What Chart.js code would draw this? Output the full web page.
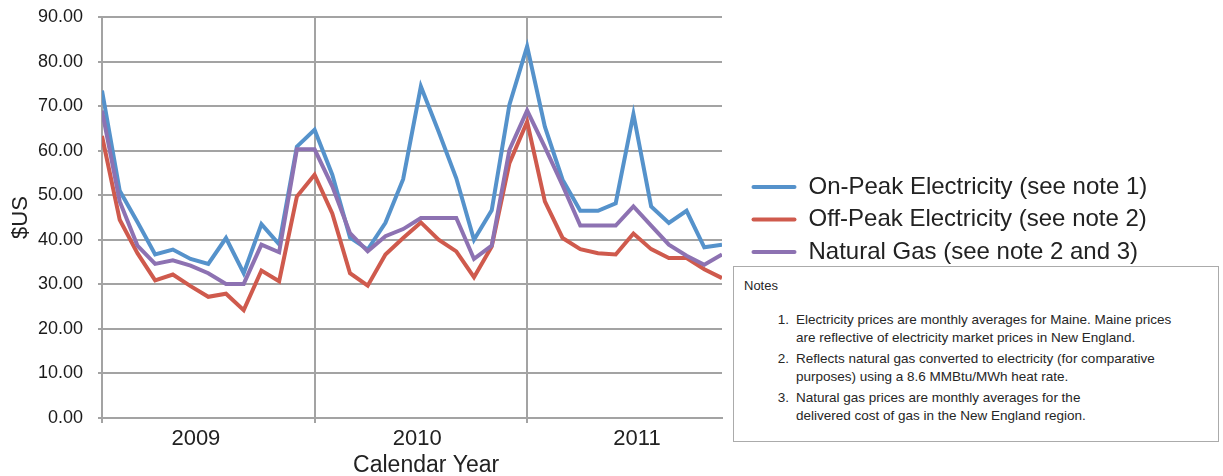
<!DOCTYPE html>
<html>
<head>
<meta charset="utf-8">
<title>Maine electricity and natural gas prices, 2009–2011</title>
<script src="https://cdn.jsdelivr.net/npm/chart.js@4/dist/chart.umd.min.js"></script>
<style>
  html, body { margin: 0; padding: 0; background: #ffffff; }
  #wrap { position: relative; width: 1223px; height: 476px; overflow: hidden; }
  #chart { position: absolute; left: 0; top: 0; }
  #notes {
    position: absolute; left: 733px; top: 266px; width: 486px; height: 176px;
    box-sizing: border-box; border: 1px solid #ababab; background: #ffffff;
    font-family: "Liberation Sans", Arial, sans-serif; font-size: 13.5px; color: #262626;
    line-height: 18px;
  }
  #notes .head { position: absolute; left: 10px; top: 10px; font-size: 13px; }
  #notes .item { position: absolute; left: 62px; white-space: nowrap; }
  #notes .item .num { position: absolute; left: -27px; width: 20px; text-align: right; }
</style>
</head>
<body>
<div id="wrap">
  <canvas id="chart" width="1223" height="476"></canvas>
  <div id="notes">
    <div class="head">Notes</div>
    <div class="item" style="top:44px"><span class="num">1.</span>Electricity prices are monthly averages for Maine. Maine prices<br>are reflective of electricity market prices in New England.</div>
    <div class="item" style="top:83px"><span class="num">2.</span>Reflects natural gas converted to electricity (for comparative<br>purposes) using a 8.6 MMBtu/MWh heat rate.</div>
    <div class="item" style="top:122px"><span class="num">3.</span>Natural gas prices are monthly averages for the<br>delivered cost of gas in the New England region.</div>
  </div>
</div>
<script>
// Monthly series, January 2009 through December 2011 ($US per MWh equivalent)
const months = [
  'Jan 2009','Feb 2009','Mar 2009','Apr 2009','May 2009','Jun 2009','Jul 2009','Aug 2009','Sep 2009','Oct 2009','Nov 2009','Dec 2009',
  'Jan 2010','Feb 2010','Mar 2010','Apr 2010','May 2010','Jun 2010','Jul 2010','Aug 2010','Sep 2010','Oct 2010','Nov 2010','Dec 2010',
  'Jan 2011','Feb 2011','Mar 2011','Apr 2011','May 2011','Jun 2011','Jul 2011','Aug 2011','Sep 2011','Oct 2011','Nov 2011','Dec 2011'
];

const onPeak = [
  73.5, 51.0, 44.0, 36.7, 37.8, 35.7, 34.6, 40.4, 32.5, 43.5, 39.0, 60.9,
  64.7, 54.6, 40.5, 37.8, 43.8, 53.6, 74.4, 64.3, 53.8, 40.0, 46.6, 70.3,
  83.4, 65.4, 53.5, 46.5, 46.5, 48.2, 68.2, 47.5, 43.8, 46.5, 38.3, 38.9
];

const offPeak = [
  63.3, 44.5, 37.0, 30.9, 32.2, 29.6, 27.2, 27.9, 24.2, 33.1, 30.7, 49.7,
  54.6, 45.9, 32.5, 29.7, 36.7, 40.4, 43.9, 40.0, 37.4, 31.6, 38.5, 57.2,
  66.5, 48.6, 40.4, 37.9, 37.0, 36.7, 41.4, 37.9, 35.9, 35.9, 33.4, 31.4
];

const naturalGas = [
  69.0, 48.6, 38.7, 34.6, 35.4, 34.2, 32.5, 30.1, 30.1, 38.9, 37.2, 60.3,
  60.3, 52.0, 41.5, 37.4, 40.8, 42.4, 44.9, 44.9, 44.9, 35.7, 38.7, 60.2,
  69.0, 60.8, 52.2, 43.2, 43.2, 43.2, 47.5, 43.2, 38.9, 36.4, 34.4, 36.7
];

const seriesNames = [
  'On-Peak Electricity (see note 1)',
  'Off-Peak Electricity (see note 2)',
  'Natural Gas (see note 2 and 3)'
];

// Year axis: divider ticks at the first month of each year, captions inside each year
const years = ['2009', '2010', '2011'];
const yearStart = [0, 12, 24];
const yearCaptionAt = [5.3, 17.8, 30.2];

const yMin = 0, yMax = 90, yStep = 10;

const BLUE = '#5592cb';
const RED = '#cf5a4d';
const PURPLE = '#8d72b2';
const GRID = '#a3a3a3';
const FONT = '"Liberation Sans", Arial, sans-serif';

const toPoints = (values) => values.map((v, i) => ({ x: i, y: v }));

// Places the legend a little to the right of the plot, vertically centred on it
const legendPlacement = {
  id: 'legendPlacement',
  afterLayout(chart) {
    const lg = chart.legend;
    if (!lg) return;
    const area = chart.chartArea;
    const w = 460;
    lg.left = area.right + 21;
    lg.right = lg.left + w;
    lg.width = w;
    lg.top = area.top + 2;
    lg.bottom = area.bottom + 2;
    lg.height = area.bottom - area.top;
  }
};

// Caption under the year labels, positioned through the x scale
const axisCaption = {
  id: 'axisCaption',
  afterDraw(chart, args, opts) {
    const { ctx } = chart;
    const x = chart.scales.x.getPixelForValue(opts.at);
    ctx.save();
    ctx.font = opts.font;
    ctx.fillStyle = opts.color;
    ctx.textAlign = 'center';
    ctx.textBaseline = 'middle';
    ctx.fillText(opts.text, x, opts.y);
    ctx.restore();
  }
};

const isYearStart = (v) => yearStart.includes(v);

new Chart(document.getElementById('chart'), {
  type: 'line',
  data: {
    datasets: [
      { label: seriesNames[0], data: toPoints(onPeak), borderColor: BLUE, backgroundColor: BLUE, order: 3 },
      { label: seriesNames[1], data: toPoints(offPeak), borderColor: RED, backgroundColor: RED, order: 2 },
      { label: seriesNames[2], data: toPoints(naturalGas), borderColor: PURPLE, backgroundColor: PURPLE, order: 1 }
    ]
  },
  options: {
    responsive: false,
    animation: false,
    devicePixelRatio: 1,
    layout: { padding: { top: 17, left: 0, bottom: 0, right: 500 } },
    elements: {
      line: { borderWidth: 4, tension: 0, fill: false, borderJoinStyle: 'miter' },
      point: { radius: 0, hoverRadius: 0, hitRadius: 0 }
    },
    plugins: {
      tooltip: { enabled: false },
      legend: {
        position: 'right',
        fullSize: false,
        maxWidth: 1,
        align: 'center',
        labels: {
          boxWidth: 45,
          boxHeight: 4,
          padding: 8.5,
          color: '#222222',
          font: { family: FONT, size: 24 },
          useBorderRadius: true,
          borderRadius: 2,
          sort: (a, b) => a.datasetIndex - b.datasetIndex,
          generateLabels: (chart) =>
            Chart.defaults.plugins.legend.labels.generateLabels(chart).map((item) => ({
              ...item, lineWidth: 0, fillStyle: item.strokeStyle
            }))
        }
      },
      axisCaption: {
        text: 'Calendar Year',
        at: 18.3,
        y: 466,
        font: '23px ' + FONT,
        color: '#222222'
      }
    },
    scales: {
      x: {
        type: 'linear',
        position: 'bottom',
        min: 0,
        max: months.length - 1,
        afterFit: (scale) => { scale.height = 58; },
        afterBuildTicks: (scale) => {
          scale.ticks = yearStart.concat(yearCaptionAt).map((v) => ({ value: v }));
        },
        ticks: {
          autoSkip: false,
          maxRotation: 0,
          padding: 3,
          color: '#222222',
          font: { family: FONT, size: 22 },
          callback: (value) => {
            const k = yearCaptionAt.indexOf(value);
            return k >= 0 ? years[k] : '';
          }
        },
        grid: {
          lineWidth: 2,
          tickLength: 5,
          color: (c) => (c.tick && isYearStart(c.tick.value) ? GRID : 'rgba(0,0,0,0)'),
          tickColor: (c) => (c.tick && isYearStart(c.tick.value) ? GRID : 'rgba(0,0,0,0)')
        },
        border: { color: GRID, width: 2 }
      },
      y: {
        min: yMin,
        max: yMax,
        afterFit: (scale) => { scale.width = 102; },
        ticks: {
          stepSize: yStep,
          padding: 15,
          color: '#1a1a1a',
          // single-line labels; a tight line height keeps the plot top at the layout padding
          font: { family: FONT, size: 18, lineHeight: 0.1 },
          callback: (value) => Number(value).toFixed(2)
        },
        grid: { color: GRID, lineWidth: 2, tickLength: 4, tickColor: GRID },
        border: { color: GRID, width: 2 },
        title: {
          display: true,
          text: '$US',
          color: '#222222',
          font: { family: FONT, size: 22, lineHeight: 1 },
          padding: { top: 10, bottom: 0 }
        }
      }
    }
  },
  plugins: [legendPlacement, axisCaption]
});
</script>
</body>
</html>
